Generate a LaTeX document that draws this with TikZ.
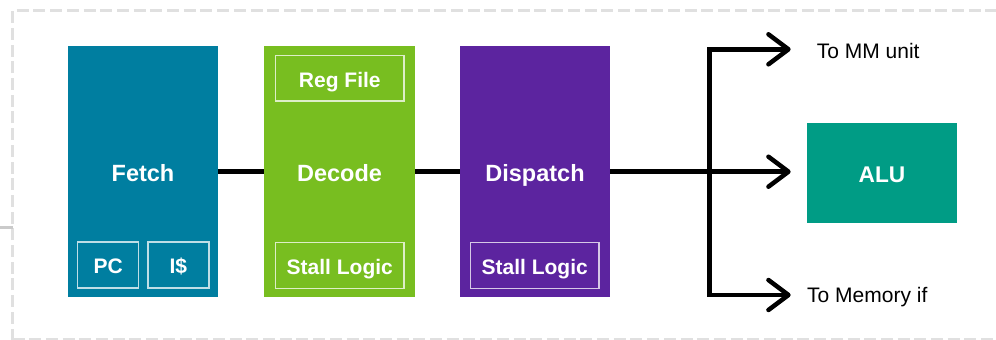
\documentclass[tikz,border=0pt]{standalone}
\usepackage{fontspec}
\setmainfont{Liberation Sans}
\usetikzlibrary{arrows.meta}

\definecolor{fetchcol}{RGB}{0,126,160}
\definecolor{decodecol}{RGB}{120,190,32}
\definecolor{dispcol}{RGB}{92,36,159}
\definecolor{alucol}{RGB}{0,156,133}
\definecolor{framecol}{RGB}{224,224,224}

\tikzset{
  stage/.style={fill=#1, draw=none, inner sep=0pt, minimum width=150pt, minimum height=251pt,
    text=white, text height=19.5pt, text depth=0pt,
    font=\fontsize{23.5}{28}\selectfont\bfseries},
  unit/.style={draw=white, draw opacity=0.75, line width=1.5pt, fill=none, inner sep=0pt,
    minimum height=46pt, text=white, text height=17.6pt, text depth=0pt,
    font=\fontsize{21}{25}\selectfont\bfseries},
  link/.style={line width=4.8pt, black},
  tipped/.style={line width=4.5pt, black,
    -{Straight Barb[length=20pt,width=30pt,round]}},
  outlabel/.style={anchor=base west, inner sep=0pt, font=\fontsize{21}{25}\selectfont},
}

\begin{document}
\begin{tikzpicture}[x=1pt, y=-1pt]
\useasboundingbox (0,0) rectangle (996,340);

% outer dashed frame and its side stub
\draw[framecol, line width=3.5pt, dash pattern=on 12pt off 4.7pt]
  (12.5,340.5) -- (12.5,10.7) -- (1010,10.7);
\draw[framecol, line width=3.5pt, dash pattern=on 12pt off 4.7pt]
  (12.5,339.5) -- (1010,339.5);
\draw[framecol!90!black, line width=3.5pt] (0,227.5) -- (12.5,227.5);

% pipeline stages
\node[stage=fetchcol]  (fetch)  at (143,171.5)   {Fetch};
\node[stage=decodecol, minimum width=151pt] (decode) at (339.5,171.5) {Decode};
\node[stage=dispcol]   (disp)   at (535,171.5)   {Dispatch};

% internal blocks
\node[unit, minimum width=61pt]    (pc)    at (108.2,265)   {PC};
\node[unit, minimum width=61pt]    (icache) at (178.3,265)  {I\$};
\node[unit, minimum width=128.3pt, minimum height=45.3pt] (regf) at (339.8,78.3) {Reg File};
\node[unit, minimum width=128.3pt] (stalld) at (339.8,265.3) {Stall Logic};
\node[unit, minimum width=128.7pt] (stallp) at (534.7,265.3) {Stall Logic};

% execution unit
\node[fill=alucol, inner sep=0pt, minimum width=150pt, minimum height=100pt,
  text=white, text height=19.4pt, text depth=0pt,
  font=\fontsize{22.7}{27}\selectfont\bfseries] (alu) at (882,173) {ALU};

% connections between stages
\draw[link] (fetch.east |- 0,171.7) -- (decode.west |- 0,171.7);
\draw[link] (decode.east |- 0,171.7) -- (disp.west |- 0,171.7);

% fan-out after dispatch
\coordinate (split) at (709.3,171.7);
\coordinate (mmtip) at (790.7,49.3);
\coordinate (memtip) at (790.7,295);
\draw[tipped] (disp.east |- split) -- (split) -- (790.7,171.7);
\draw[tipped] (split) |- (mmtip);
\draw[tipped] (split) |- (memtip);

\node[outlabel] (mmlab)  at (816.7,58.3)  {To MM unit};
\node[outlabel] (memlab) at (807,302.7)   {To Memory if};
\end{tikzpicture}
\end{document}
